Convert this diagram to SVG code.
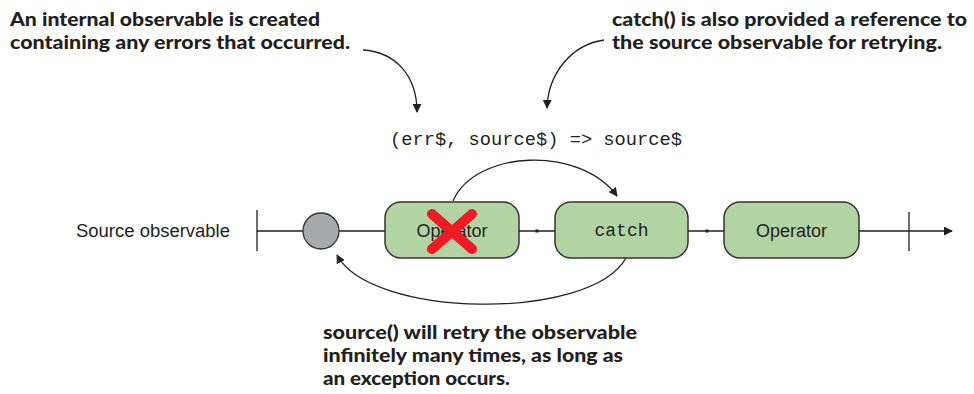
<svg xmlns="http://www.w3.org/2000/svg" width="974" height="394" viewBox="0 0 974 394">
<defs>
<marker id="ah" viewBox="0 0 10 10" refX="9" refY="5" markerWidth="9" markerHeight="9" markerUnits="userSpaceOnUse" orient="auto">
<path d="M0,0 L10,5 L0,10 z" fill="#231f20"/>
</marker>
</defs>
<style>
.note{font-family:Lato,"Open Sans","Liberation Sans",sans-serif;font-weight:900;font-size:19px;fill:#231f20}
.box{fill:#b2d4a3;stroke:#333;stroke-width:1.5}
.lbl{font-family:"Liberation Sans",Arial,sans-serif;font-size:18px;fill:#231f20}
.mono{font-family:"Liberation Mono","Courier New",monospace;font-size:18px;fill:#231f20}
.ln{stroke:#231f20;stroke-width:1.3;fill:none}
</style>
<rect width="974" height="394" fill="#fff"/>
<g id="note-top-left">
<text class="note" x="10" y="26" textLength="310" lengthAdjust="spacingAndGlyphs">An internal observable is created</text>
<text class="note" x="10" y="49" textLength="340" lengthAdjust="spacingAndGlyphs">containing any errors that occurred.</text>
</g>
<g id="note-top-right">
<text class="note" x="612" y="26" textLength="355" lengthAdjust="spacingAndGlyphs">catch() is also provided a reference to</text>
<text class="note" x="612" y="49" textLength="330" lengthAdjust="spacingAndGlyphs">the source observable for retrying.</text>
</g>
<g id="note-bottom">
<text class="note" x="323" y="339" textLength="314" lengthAdjust="spacingAndGlyphs">source() will retry the observable</text>
<text class="note" x="323" y="362" textLength="300" lengthAdjust="spacingAndGlyphs">infinitely many times, as long as</text>
<text class="note" x="323" y="385" textLength="187" lengthAdjust="spacingAndGlyphs">an exception occurs.</text>
</g>
<g id="signature">
<text class="mono" x="390" y="145" textLength="292" lengthAdjust="spacingAndGlyphs">(err$, source$) =&gt; source$</text>
</g>
<g id="source-label">
<text class="lbl" x="76" y="237" textLength="154" lengthAdjust="spacingAndGlyphs">Source observable</text>
</g>
<g id="connectors">
<line class="ln" x1="257" y1="210" x2="257" y2="251"/>
<line class="ln" x1="257" y1="231" x2="303" y2="231"/>
<line class="ln" x1="339" y1="231" x2="385" y2="231"/>
<line class="ln" x1="519" y1="231" x2="555" y2="231"/>
<rect x="535.5" y="229.5" width="3" height="3" fill="#231f20"/>
<line class="ln" x1="688" y1="231" x2="724" y2="231"/>
<rect x="705.5" y="229.5" width="3" height="3" fill="#231f20"/>
<line class="ln" x1="859" y1="231" x2="952" y2="231" marker-end="url(#ah)"/>
<line class="ln" x1="909" y1="212" x2="909" y2="251"/>
<path class="ln" d="M363,50 C395,52 417,75 417,112" marker-end="url(#ah)"/>
<path class="ln" d="M604,40 C570,45 548,75 547,108" marker-end="url(#ah)"/>
<path class="ln" d="M453,201 C475,150 580,145 617,196" marker-end="url(#ah)"/>
<path class="ln" d="M626,258 C590,322 370,318 337,255" marker-end="url(#ah)"/>
</g>
<g id="source-circle">
<circle cx="321" cy="231" r="18" fill="#a7a9ac" stroke="#333" stroke-width="1.3"/>
</g>
<g id="operator-1">
<rect class="box" x="385" y="202" width="134" height="56" rx="16"/>
<text class="lbl" x="452" y="237" text-anchor="middle">Operator</text>
<path d="M432,214 L472,249 M472,214 L432,249" stroke="#ed1c24" stroke-width="10" stroke-linecap="round"/>
</g>
<g id="catch">
<rect class="box" x="555" y="202" width="133" height="56" rx="16"/>
<text class="mono" x="621.5" y="236" text-anchor="middle">catch</text>
</g>
<g id="operator-2">
<rect class="box" x="724" y="202" width="135" height="56" rx="16"/>
<text class="lbl" x="791.5" y="237" text-anchor="middle">Operator</text>
</g>
</svg>
